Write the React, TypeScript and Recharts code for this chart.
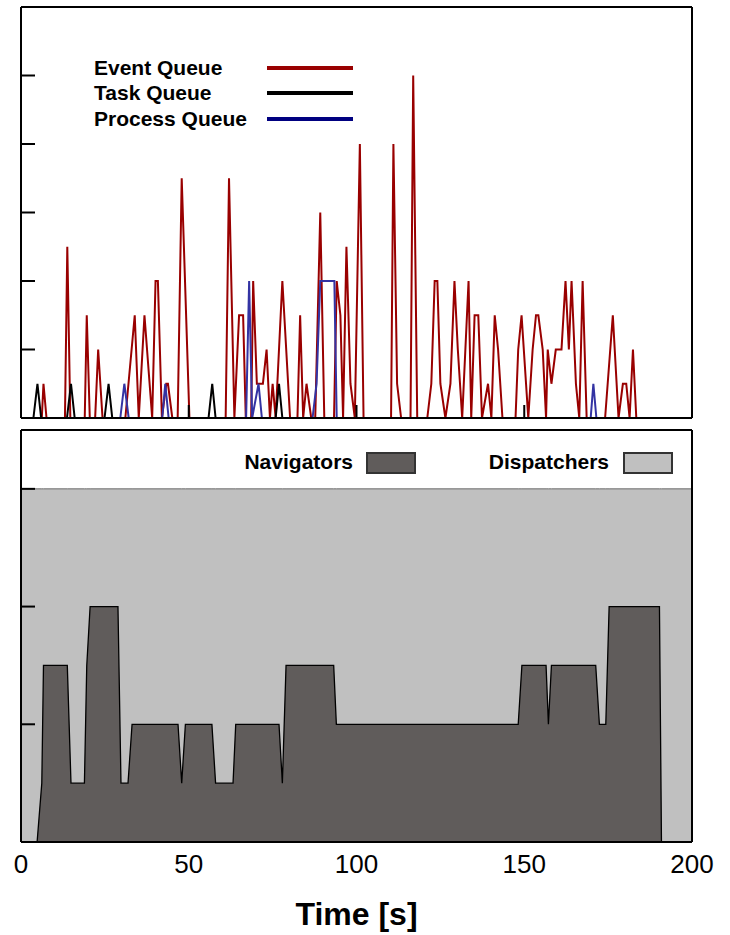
import React from "react";
import { LineChart, Line, AreaChart, Area, XAxis, YAxis, Label } from "recharts";

// [time (s), queue length]
const eventQueue: [number, number][] = [
  [0, 0], [6.2, 0], [6.7, 1], [7.6, 0],
  [13.1, 0], [13.8, 5], [14.7, 0],
  [19.0, 0], [19.6, 3], [20.5, 0],
  [22.1, 0], [23.0, 2], [24.3, 0],
  [31.1, 0], [33.9, 3], [35.1, 0], [36.8, 3], [39.1, 0], [40.1, 4], [40.8, 4], [42.0, 0], [43.3, 1], [43.8, 1], [45.1, 0],
  [46.7, 0], [47.9, 7], [50.2, 0],
  [61.0, 0], [62.0, 7], [63.6, 0], [65.0, 3], [66.2, 3], [67.0, 0],
  [68.6, 0], [69.2, 4], [70.3, 1], [72.1, 1], [73.2, 2], [74.2, 0], [75.0, 1], [75.9, 0], [77.9, 4], [80.2, 0],
  [82.4, 0], [83.2, 3], [84.1, 0], [85.1, 1], [86.5, 0], [87.7, 0], [89.2, 6], [90.4, 0],
  [93.3, 0], [94.1, 4], [95.2, 3], [96.0, 0], [97.0, 5], [98.2, 1], [99.5, 0], [101.0, 8], [102.1, 0],
  [110.3, 0], [111.0, 8], [112.1, 1], [113.3, 0],
  [116.1, 0], [116.9, 10], [118.1, 0],
  [121.1, 0], [122.3, 1], [123.3, 4], [124.1, 4], [125.0, 1], [126.5, 0], [128.0, 1], [129.2, 4], [130.2, 2], [131.5, 0],
  [133.4, 4], [134.2, 0], [135.2, 3], [136.3, 3], [137.4, 0], [139.2, 1], [140.2, 0], [141.2, 3], [142.2, 2], [143.5, 0],
  [147.4, 0], [148.2, 2], [149.2, 3], [151.2, 0], [152.5, 2], [153.5, 3], [154.2, 3], [155.5, 2], [156.5, 0],
  [157.0, 2], [158.1, 1], [159.4, 2], [161.1, 2], [162.3, 4], [163.3, 2], [164.1, 4], [165.4, 1], [166.4, 0], [167.4, 4], [168.6, 0],
  [174.1, 0], [176.4, 3], [178.1, 0], [179.4, 1], [180.4, 1], [181.4, 0], [182.4, 2], [183.4, 0],
];

const taskQueue: [number, number][] = [
  [0, 0], [3.7, 0], [4.9, 1], [6.0, 0],
  [13.7, 0], [14.9, 1], [16.0, 0],
  [24.9, 0], [26.1, 1], [27.2, 0],
  [55.9, 0], [57.0, 1], [58.0, 0],
  [75.9, 0], [76.9, 1], [77.9, 0], [200, 0],
];

// null breaks the line between bursts
const processQueue: [number, number | null][] = [
  [29.6, 0], [30.8, 1], [32.1, 0], [37, null],
  [42.1, 0], [43.0, 1], [44.0, 0], [55, null],
  [67.1, 0], [68.0, 4], [68.9, 0], [70.8, 1], [71.8, 0], [80, null],
  [86.9, 0], [88.1, 1], [89.2, 4], [93.4, 4], [94.1, 0], [120, null],
  [169.8, 0], [170.6, 1], [171.5, 0],
];

const navigators: [number, number][] = [
  [4.8, 0], [6.2, 1], [6.7, 3], [13.8, 3], [14.9, 1], [18.9, 1], [19.6, 3], [20.6, 4], [28.9, 4],
  [29.8, 1], [31.9, 1], [33.1, 2], [46.8, 2], [47.9, 1], [49.0, 2], [56.9, 2], [58.0, 1], [63.2, 1],
  [64.0, 2], [76.9, 2], [77.9, 1], [79.0, 3], [93.2, 3], [94.0, 2], [148.2, 2], [149.3, 3], [156.5, 3],
  [157.2, 2], [158.1, 3], [171.3, 3], [172.4, 2], [174.3, 2], [175.3, 4], [190.3, 4], [190.9, 0],
];

const dispatchersLevel = 6;
const timeTicks = [0, 50, 100, 150, 200];
const innerTimeTicks = [50, 100, 150];
const queueTicks = [2, 4, 6, 8, 10];
const agentTicks = [2, 4, 6];

const FONT = "'Liberation Sans', Arial, Helvetica, sans-serif";
const RED = "#990000";
const BLUE = "#3333a3";

const toRows = (pts: [number, number | null][]) => pts.map(([t, v]) => ({ t, v }));

const agentRows = [
  { t: 0, nav: null as number | null, disp: dispatchersLevel },
  ...navigators.map(([t, v]) => ({ t, nav: v as number | null, disp: dispatchersLevel })),
  { t: 200, nav: null as number | null, disp: dispatchersLevel },
];

const axisLine = { stroke: "#000", strokeWidth: 2 };
const tickLine = { stroke: "#000", strokeWidth: 2 };
const blank = () => "";

export default function App() {
  return (
    <div style={{ position: "absolute", left: 0, top: 0, width: 730, height: 935, background: "#fff", fontFamily: FONT }}>
      <div style={{ position: "absolute", left: 0, top: 0 }}>
        <LineChart width={730} height={430} margin={{ top: 7, right: 38, bottom: 12, left: 21 }}>
          <Line xAxisId="b" yAxisId="l" data={toRows(eventQueue)} dataKey="v" type="linear" stroke={RED} strokeWidth={2} dot={false} isAnimationActive={false} />
          <Line xAxisId="b" yAxisId="l" data={toRows(taskQueue)} dataKey="v" type="linear" stroke="#000" strokeWidth={2} dot={false} isAnimationActive={false} />
          <Line xAxisId="b" yAxisId="l" data={toRows(processQueue)} dataKey="v" type="linear" stroke={BLUE} strokeWidth={2} dot={false} isAnimationActive={false} />
          <XAxis xAxisId="b" type="number" dataKey="t" domain={[0, 200]} ticks={innerTimeTicks} orientation="bottom" mirror tickSize={13} tickFormatter={blank} axisLine={axisLine} tickLine={tickLine} />
          <XAxis xAxisId="t" type="number" dataKey="t" domain={[0, 200]} ticks={innerTimeTicks} orientation="top" mirror tickSize={13} tickFormatter={blank} axisLine={axisLine} tickLine={tickLine} />
          <YAxis yAxisId="l" type="number" domain={[0, 12]} ticks={queueTicks} orientation="left" mirror tickSize={14} tickFormatter={blank} axisLine={axisLine} tickLine={tickLine} />
          <YAxis yAxisId="r" type="number" domain={[0, 12]} ticks={queueTicks} orientation="right" mirror tickSize={14} tickFormatter={blank} axisLine={axisLine} tickLine={tickLine} />
        </LineChart>
      </div>

      <div style={{ position: "absolute", left: 0, top: 420 }}>
        <AreaChart width={730} height={515} data={agentRows} margin={{ top: 10, right: 38, bottom: 0, left: 21 }}>
          <Area xAxisId="lab" yAxisId="l" dataKey="disp" type="linear" fill="#c0c0c0" fillOpacity={1} stroke="#6a6a6a" strokeWidth={1} isAnimationActive={false} />
          <Area xAxisId="lab" yAxisId="l" dataKey="nav" type="linear" fill="#605c5b" fillOpacity={1} stroke="#000" strokeWidth={1.3} isAnimationActive={false} />
          <XAxis xAxisId="lab" type="number" dataKey="t" domain={[0, 200]} ticks={timeTicks} interval={0} orientation="bottom" height={93} tickLine={false} axisLine={false} tickSize={0} tickMargin={13} tick={{ fontSize: 26, fill: "#000", fontFamily: FONT }}>
            <Label value="Time [s]" position="insideBottom" offset={10} style={{ fontSize: 32, fontWeight: "bold", fill: "#000", fontFamily: FONT }} />
          </XAxis>
          <XAxis xAxisId="bt" type="number" domain={[0, 200]} ticks={innerTimeTicks} orientation="bottom" mirror tickSize={13} tickFormatter={blank} axisLine={axisLine} tickLine={tickLine} />
          <XAxis xAxisId="tp" type="number" domain={[0, 200]} ticks={innerTimeTicks} orientation="top" mirror tickSize={13} tickFormatter={blank} axisLine={axisLine} tickLine={tickLine} />
          <YAxis yAxisId="l" type="number" domain={[0, 7]} ticks={agentTicks} orientation="left" mirror tickSize={14} tickFormatter={blank} axisLine={axisLine} tickLine={tickLine} />
          <YAxis yAxisId="r" type="number" domain={[0, 7]} ticks={agentTicks} orientation="right" mirror tickSize={14} tickFormatter={blank} axisLine={axisLine} tickLine={tickLine} />
        </AreaChart>
      </div>

      {/* queue legend */}
      {[
        { label: "Event Queue", color: RED, y: 68 },
        { label: "Task Queue", color: "#000", y: 93 },
        { label: "Process Queue", color: "#000080", y: 119 },
      ].map((r) => (
        <React.Fragment key={r.label}>
          <div style={{ position: "absolute", left: 94, top: r.y - 12, lineHeight: "24px", fontSize: 21, fontWeight: "bold", whiteSpace: "nowrap" }}>{r.label}</div>
          <div style={{ position: "absolute", left: 267, top: r.y - 2, width: 86, height: 4, background: r.color }} />
        </React.Fragment>
      ))}

      {/* agent legend */}
      {[
        { label: "Navigators", color: "#605c5b", right: 353, box: 366 },
        { label: "Dispatchers", color: "#c0c0c0", right: 609, box: 623 },
      ].map((r) => (
        <React.Fragment key={r.label}>
          <div style={{ position: "absolute", right: 730 - r.right, top: 450, lineHeight: "24px", fontSize: 21, fontWeight: "bold", whiteSpace: "nowrap" }}>{r.label}</div>
          <div style={{ position: "absolute", left: r.box, top: 452, width: 46, height: 18, background: r.color, border: "2px solid #333" }} />
        </React.Fragment>
      ))}
    </div>
  );
}
